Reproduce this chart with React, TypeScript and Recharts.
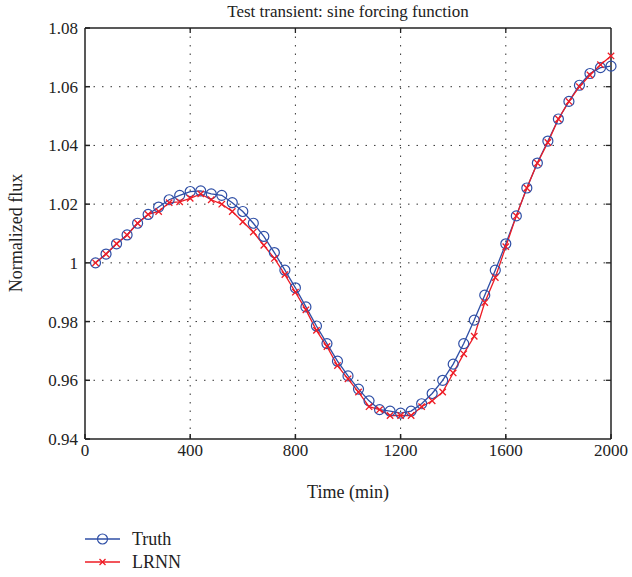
import React from 'react';
import { LineChart, Line, XAxis, YAxis, CartesianGrid, ReferenceLine } from 'recharts';

const times = [
  40, 80, 120, 160, 200, 240, 280, 320, 360, 400,
  440, 480, 520, 560, 600, 640, 680, 720, 760, 800,
  840, 880, 920, 960, 1000, 1040, 1080, 1120, 1160, 1200,
  1240, 1280, 1320, 1360, 1400, 1440, 1480, 1520, 1560, 1600,
  1640, 1680, 1720, 1760, 1800, 1840, 1880, 1920, 1960, 2000,
];

const truth = [
  1.0, 1.003, 1.0065, 1.0095, 1.0135, 1.0165, 1.019, 1.0215, 1.023, 1.0243,
  1.0245, 1.0235, 1.023, 1.0205, 1.0175, 1.0135, 1.009, 1.0035, 0.9975, 0.9915,
  0.985, 0.9785, 0.9725, 0.9665, 0.9615, 0.957, 0.953, 0.95, 0.9495, 0.9488,
  0.9495, 0.952, 0.9555, 0.96, 0.9655, 0.9725, 0.9805, 0.989, 0.9975, 1.0065,
  1.016, 1.0255, 1.034, 1.0415, 1.049, 1.055, 1.0605, 1.0645, 1.0665, 1.067,
];

const lrnn = [
  1.0, 1.003, 1.0065, 1.0095, 1.0135, 1.0165, 1.0175, 1.0205, 1.0208, 1.022,
  1.0235, 1.0215, 1.02, 1.0175, 1.014, 1.0105, 1.006, 1.0015, 0.996, 0.99,
  0.984, 0.977, 0.9715, 0.965, 0.9605, 0.956, 0.951, 0.95, 0.948, 0.948,
  0.948, 0.951, 0.953, 0.956, 0.9625, 0.969, 0.975, 0.9865, 0.995, 1.0055,
  1.016, 1.0255, 1.034, 1.041, 1.049, 1.055, 1.06, 1.064, 1.0675, 1.0705,
];

const xTicks = [0, 400, 800, 1200, 1600, 2000];
const yTicks = [0.94, 0.96, 0.98, 1.0, 1.02, 1.04, 1.06, 1.08];

const data = times.map((t, i) => ({ t, truth: truth[i], lrnn: lrnn[i] }));

const BLUE = '#2f4fa6';
const RED = '#ee1c25';
const FONT = 'Liberation Serif';
const xMax = xTicks[xTicks.length - 1];
const yMax = yTicks[yTicks.length - 1];

const Circle = (props: any) => {
  const { cx, cy } = props;
  if (cx == null || cy == null) return null;
  return <circle cx={cx} cy={cy} r={5} fill="none" stroke={BLUE} strokeWidth={1.2} />;
};

const Cross = (props: any) => {
  const { cx, cy } = props;
  if (cx == null || cy == null) return null;
  const s = 3.2;
  return (
    <path
      d={`M${cx - s},${cy - s}L${cx + s},${cy + s}M${cx - s},${cy + s}L${cx + s},${cy - s}`}
      stroke={RED}
      strokeWidth={1.3}
      fill="none"
    />
  );
};

const fmtY = (v: number) => Number(v.toFixed(2)).toString();

const tickStyle = { fontSize: 17, fill: '#222', fontFamily: FONT };

export default function App() {
  return (
    <div style={{ position: 'absolute', left: 0, top: 0, width: 632, height: 577, background: '#fff', fontFamily: FONT }}>
      <LineChart
        width={632}
        height={577}
        data={data}
        margin={{ top: 28, right: 21, left: 0, bottom: 108 }}
      >
        <CartesianGrid
          stroke="#333"
          strokeDasharray="1.5 7"
          horizontalValues={yTicks.slice(1, -1)}
          verticalValues={xTicks.slice(1, -1)}
        />
        <XAxis
          dataKey="t"
          type="number"
          domain={[0, 2000]}
          ticks={xTicks}
          height={30}
          tickSize={-5}
          tickMargin={10}
          stroke="#222"
          strokeWidth={1.5}
          tick={tickStyle}
          interval={0}
        />
        <YAxis
          type="number"
          domain={[0.94, 1.08]}
          ticks={yTicks}
          width={85}
          tickSize={-5}
          tickMargin={12}
          stroke="#222"
          strokeWidth={1.5}
          tick={tickStyle}
          tickFormatter={fmtY}
          interval={0}
          allowDataOverflow
        />
        <ReferenceLine y={yMax} stroke="#222" strokeWidth={1.5} ifOverflow="visible" />
        <ReferenceLine x={xMax} stroke="#222" strokeWidth={1.5} ifOverflow="visible" />
        {xTicks.slice(1, -1).map((x) => (
          <ReferenceLine
            key={'tx' + x}
            segment={[{ x, y: yMax }, { x, y: yMax - 0.0017 }]}
            stroke="#222"
            strokeWidth={1.3}
          />
        ))}
        {yTicks.slice(1, -1).map((y) => (
          <ReferenceLine
            key={'ty' + y}
            segment={[{ x: xMax, y }, { x: xMax - 20, y }]}
            stroke="#222"
            strokeWidth={1.3}
          />
        ))}
        <Line
          type="linear"
          dataKey="truth"
          stroke={BLUE}
          strokeWidth={1.3}
          dot={<Circle />}
          activeDot={false}
          isAnimationActive={false}
        />
        <Line
          type="linear"
          dataKey="lrnn"
          stroke={RED}
          strokeWidth={1.3}
          dot={<Cross />}
          activeDot={false}
          isAnimationActive={false}
        />
        <text x={348} y={17} textAnchor="middle" fontFamily={FONT} fontSize={17} fill="#222">
          Test transient: sine forcing function
        </text>
        <text x={348} y={498} textAnchor="middle" fontFamily={FONT} fontSize={18} fill="#222">
          Time (min)
        </text>
        <text
          x={22}
          y={233}
          textAnchor="middle"
          fontFamily={FONT}
          fontSize={18}
          fill="#222"
          transform="rotate(-90 22 233)"
        >
          Normalized flux
        </text>
        <g>
          <line x1={85} y1={539} x2={120} y2={539} stroke={BLUE} strokeWidth={1.3} />
          <circle cx={102.5} cy={539} r={5} fill="none" stroke={BLUE} strokeWidth={1.2} />
          <text x={132} y={545} fontFamily={FONT} fontSize={18} fill="#222">Truth</text>
          <line x1={85} y1={562} x2={120} y2={562} stroke={RED} strokeWidth={1.3} />
          <path d="M99.5,559L105.5,565M99.5,565L105.5,559" stroke={RED} strokeWidth={1.3} />
          <text x={132} y={568} fontFamily={FONT} fontSize={18} fill="#222">LRNN</text>
        </g>
      </LineChart>
    </div>
  );
}
